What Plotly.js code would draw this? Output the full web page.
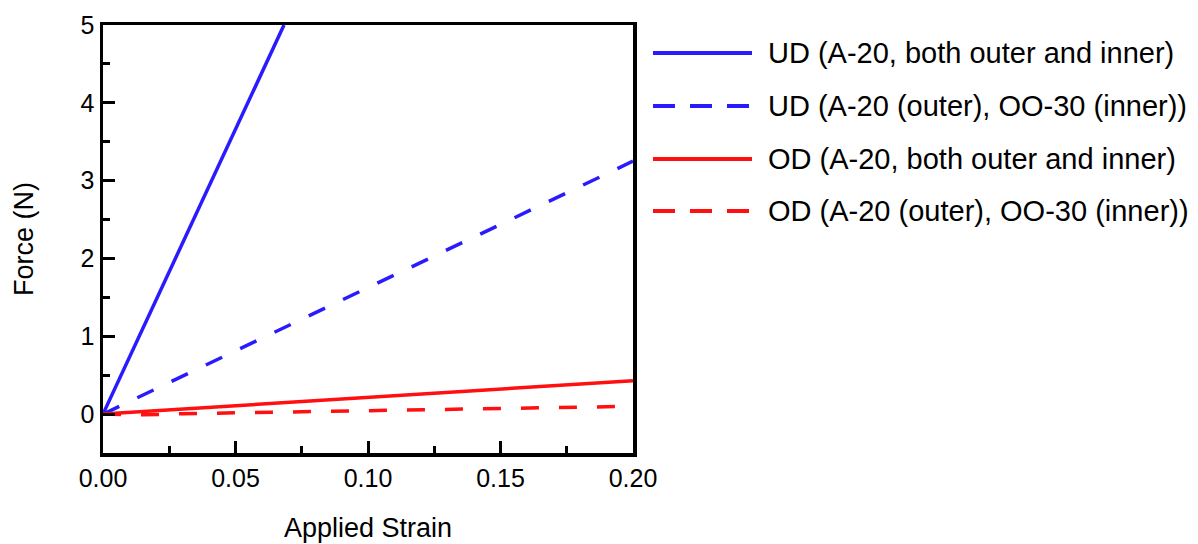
<!DOCTYPE html>
<html>
<head>
<meta charset="utf-8">
<script src="https://cdn.plot.ly/plotly-3.0.1.min.js"></script>
<style>
  html, body { margin: 0; padding: 0; background: #fff; }
  #chart { width: 1198px; height: 544px; }
</style>
</head>
<body>
<div id="chart"></div>
<script>
// ---- data ----
const seriesNames = [
  "UD (A-20, both outer and inner)",
  "UD (A-20 (outer), OO-30 (inner))",
  "OD (A-20, both outer and inner)",
  "OD (A-20 (outer), OO-30 (inner))"
];
const udSolidX = [0, 0.02, 0.04, 0.06, 0.0683];
const udSolidY = [0, 1.46, 2.93, 4.39, 5.0];
const udDashX = [0, 0.05, 0.10, 0.15, 0.20];
const udDashY = [0, 0.81, 1.62, 2.44, 3.25];
const odSolidX = [0, 0.05, 0.10, 0.15, 0.20];
const odSolidY = [0, 0.11, 0.215, 0.32, 0.43];
const odDashX = [0, 0.015, 0.03, 0.06, 0.12, 0.20];
const odDashY = [0, -0.01, 0.005, 0.02, 0.06, 0.10];
const xTickVals = [0, 0.05, 0.10, 0.15, 0.20];
const yTickVals = [0, 1, 2, 3, 4, 5];

// ---- styling ----
const BLUE = "#2a1bff";
const RED = "#ff0f0f";
const FONT = "Liberation Sans, Arial, Helvetica, sans-serif";
const W = 1198, H = 544;
const M = {l: 103, r: 565, t: 25, b: 91};
const plotW = W - M.l - M.r, plotH = H - M.t - M.b;
const px2x = px => (px - M.l) / plotW;
const px2y = py => (H - M.b - py) / plotH;

const xs = [udSolidX, udDashX, odSolidX, odDashX];
const ys = [udSolidY, udDashY, odSolidY, odDashY];
const colors = [BLUE, BLUE, RED, RED];
const dashesPlot = ["solid", "18px,20px", "solid", "18px,20px"];
const dashesLegend = ["solid", "22px,15px", "solid", "22px,15px"];

const traces = seriesNames.map((n, i) => ({
  x: xs[i], y: ys[i], name: n, type: "scatter", mode: "lines",
  line: {color: colors[i], width: 3.5, dash: dashesPlot[i]},
  showlegend: false, cliponaxis: true
}));

const rowY = [53, 106, 159, 211];
const shapes = [];
const annotations = [];
seriesNames.forEach((n, i) => {
  shapes.push({
    type: "line", xref: "paper", yref: "paper",
    x0: px2x(653), x1: px2x(752), y0: px2y(rowY[i]), y1: px2y(rowY[i]),
    line: {color: colors[i], width: 4, dash: dashesLegend[i]}
  });
  annotations.push({
    xref: "paper", yref: "paper", x: px2x(766), y: px2y(rowY[i]),
    xanchor: "left", yanchor: "middle", showarrow: false,
    text: n, font: {family: FONT, size: 29, color: "#000"}
  });
});

const axisCommon = {
  showline: true, linecolor: "#000", linewidth: 3.5, mirror: true,
  showgrid: false, zeroline: false,
  ticks: "inside", ticklen: 12, tickwidth: 3, tickcolor: "#000",
  tickfont: {family: FONT, size: 25, color: "#000"}
};

const layout = {
  width: W, height: H,
  margin: M,
  paper_bgcolor: "#fff", plot_bgcolor: "#fff",
  showlegend: false,
  xaxis: Object.assign({}, axisCommon, {
    range: [0, 0.2], tickvals: xTickVals, tickformat: ".2f",
    minor: {dtick: 0.025, tick0: 0, ticks: "inside", ticklen: 7, tickwidth: 3, tickcolor: "#000"},
    title: {text: "Applied Strain", font: {family: FONT, size: 27, color: "#000"}, standoff: 28}
  }),
  yaxis: Object.assign({}, axisCommon, {
    range: [-0.5, 5], tickvals: yTickVals,
    minor: {dtick: 0.5, tick0: 0, ticks: "inside", ticklen: 7, tickwidth: 3, tickcolor: "#000"},
    title: {text: "Force (N)", font: {family: FONT, size: 27, color: "#000"}, standoff: 40}
  }),
  shapes: shapes,
  annotations: annotations
};

Plotly.newPlot("chart", traces, layout, {displayModeBar: false, staticPlot: true});
</script>
</body>
</html>
